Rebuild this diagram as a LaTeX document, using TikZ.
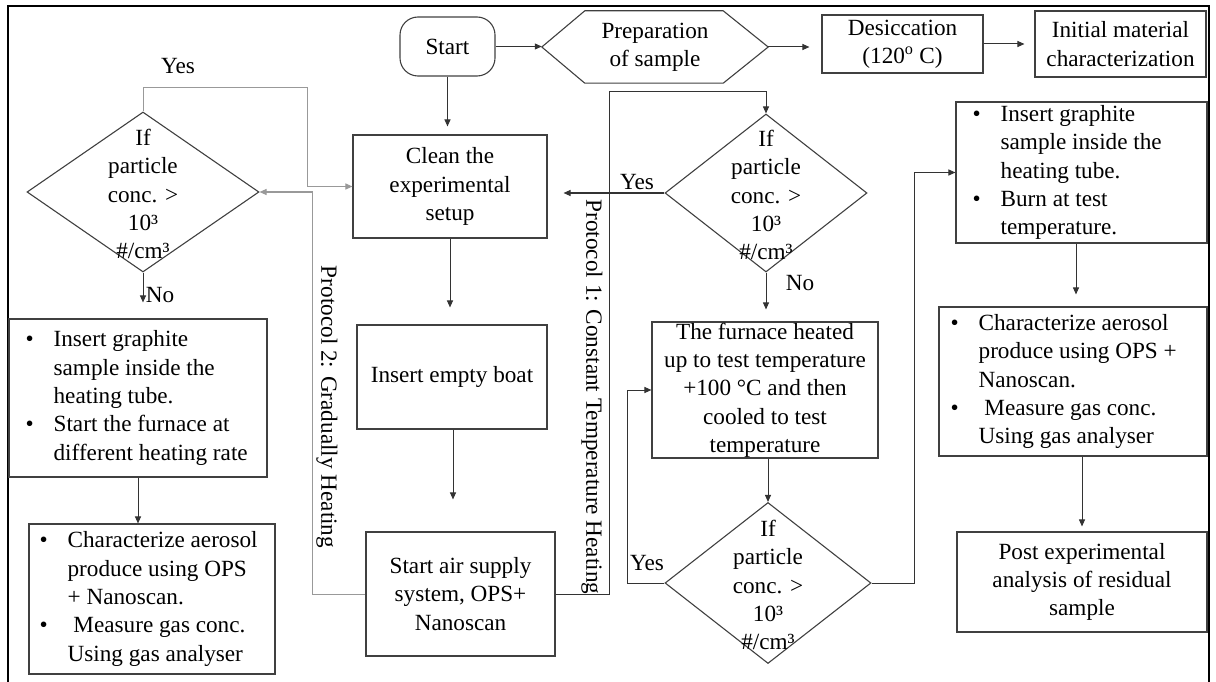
\documentclass[tikz,border=0pt]{standalone}
\usepackage{fontspec}
\setmainfont{Liberation Serif}
\usetikzlibrary{arrows.meta,shapes.geometric}
\newcommand\bitem{\makebox[28pt][l]{\textbullet}}
\newcommand\bind{\hspace*{28pt}}
\begin{document}
\begin{tikzpicture}[x=1pt,y=-1pt, font=\fontsize{23.2}{28.3}\selectfont,
  box/.style={draw=black!75, line width=1.1pt, inner sep=0pt, align=center},
  dia/.style={draw=black!75, line width=1.1pt, diamond, inner sep=0pt},
  conn/.style={draw=black!80, line width=1pt, -{Triangle[length=7pt,width=6pt]}},
  gconn/.style={conn, draw=black!40},
  lbl/.style={inner sep=0pt},
  btext/.style={inner sep=0pt, align=left, anchor=west}]
\useasboundingbox (0,0) rectangle (1216,682);
% frame
\draw[line width=2pt] (8,690) -- (8,6) -- (1209,6) -- (1209,690);

% top row
\node[box, rounded corners=18pt, minimum width=95pt, minimum height=59pt] (start) at (447.5,46.5) {Start};
\node[inner sep=0pt, minimum width=226pt, minimum height=72pt, align=center] (prep) at (655,47) {Preparation\\of sample};
\draw[draw=black!75, line width=1.1pt] (prep.west) -- ([xshift=43pt]prep.north west) -- ([xshift=-45pt]prep.north east) -- (prep.east) -- ([xshift=-45pt]prep.south east) -- ([xshift=43pt]prep.south west) -- cycle;
\node[box, minimum width=161pt, minimum height=58pt] (desic) at (902.5,44) {Desiccation\\(120\textsuperscript{o} C)};
\node[box, minimum width=171pt, minimum height=66pt] (init) at (1120.5,44) {Initial material\\characterization};

% middle column
\node[box, minimum width=194pt, minimum height=103pt] (clean) at (450,186.5) {Clean the\\experimental\\setup};
\node[box, minimum width=190pt, minimum height=104pt] (boat) at (452,377) {Insert empty boat};
\node[box, minimum width=189pt, minimum height=124pt] (air) at (460.5,594) {Start air supply\\system, OPS+\\Nanoscan};

% protocol 1 column
\node[dia, minimum width=202pt, minimum height=158pt] (d1) at (766,193) {};
\node[lbl, align=center] (d1t) at (766,195) {If\\particle\\conc. >\\10³\\\#/cm³};
\node[box, minimum width=226pt, minimum height=136pt] (furn) at (765,390) {The furnace heated\\up to test temperature\\+100 °C and then\\cooled to test\\temperature};
\node[dia, minimum width=206pt, minimum height=161pt] (d2) at (768,583) {};
\node[lbl, align=center] (d2t) at (768,585) {If\\particle\\conc. >\\10³\\\#/cm³};

% right column
\node[box, minimum width=251pt, minimum height=141pt] (graph) at (1081.5,172.5) {};
\node[btext] (grapht) at ([xshift=17pt]graph.west) {\bitem Insert graphite\\\bind sample inside the\\\bind heating tube.\\\bitem Burn at test\\\bind temperature.};
\node[box, minimum width=268pt, minimum height=149pt] (charR) at (1073,381.5) {};
\node[btext] (charRt) at ([xshift=12pt]charR.west) {\bitem Characterize aerosol\\\bind produce using OPS +\\\bind Nanoscan.\\\bitem\ Measure gas conc.\\\bind Using gas analyser};
\node[box, minimum width=250pt, minimum height=100pt] (post) at (1082,582) {Post experimental\\analysis of residual\\sample};

% left column
\node[dia, minimum width=232pt, minimum height=160pt] (d3) at (143,192) {};
\node[lbl, align=center] (d3t) at (143,194) {If\\particle\\conc. >\\10³\\\#/cm³};
\node[box, minimum width=258pt, minimum height=158pt] (b1) at (138,398) {};
\node[btext] (b1t) at ([xshift=17pt]b1.west) {\bitem Insert graphite\\\bind sample inside the\\\bind heating tube.\\\bitem Start the furnace at\\\bind different heating rate};
\node[box, minimum width=246pt, minimum height=150pt] (b2) at (152,599) {};
\node[btext] (b2t) at ([xshift=11pt]b2.west) {\bitem Characterize aerosol\\\bind produce using OPS\\\bind + Nanoscan.\\\bitem\ Measure gas conc.\\\bind Using gas analyser};

% coordinates
\coordinate (p1) at (609,92);
\coordinate (ly) at (307,88);
\coordinate (p2) at (312,594);

% connectors top
\draw[conn] (start.east) -- (start.east -| prep.west);
\draw[conn, shorten >=12pt] (prep.east) -- (prep.east -| desic.west);
\draw[conn, shorten >=10pt] (desic.east) -- (init.west);
\draw[conn, shorten >=8pt] (start.south) -- (start.south |- clean.north);
\draw[conn, shorten >=17pt] (clean.south) -- (clean.south |- boat.north);
\draw[conn, shorten >=32pt] ([xshift=1pt]boat.south) -- ([xshift=1pt]boat.south |- air.north);

% protocol 1
\draw[conn] (air.east) -| (p1) -| (d1.north);
\node[lbl, rotate=-90] (p1lab) at (592,397) {Protocol 1: Constant Temperature Heating};
\draw[conn, shorten >=16pt] (d1.west) -- (clean.east |- d1.west);
\node[lbl] (yes1) at (637,182) {Yes};
\draw[conn, shorten >=12pt] (d1.south) -- (d1.south |- furn.north);
\node[lbl] (no1) at (800,283) {No};
\draw[conn] (d2.north |- furn.south) -- (d2.north);
\draw[conn] (d2.west) -- ++(-37,0) |- (furn.west);
\node[lbl] (yes2) at (647,563) {Yes};
\draw[conn] (d2.east) -- ++(43,0) |- (graph.west);
\draw[conn, shorten >=12pt] ([xshift=-5.5pt]graph.south) -- ([xshift=-5.5pt]graph.south |- charR.north);
\draw[conn, shorten >=5pt] (post.north |- charR.south) -- (post.north);

% protocol 2 / left
\draw[gconn] (d3.north) |- (ly) |- (clean.west);
\node[lbl] (yes3) at (178,66) {Yes};
\draw[gconn] (air.west) -- (p2) |- (d3.east);
\node[lbl, rotate=-90] (p2lab) at (327,407) {Protocol 2: Gradually Heating};
\draw[conn, shorten >=16pt] (d3.south) -- (d3.south |- b1.north);
\node[lbl] (no3) at (160,295) {No};
\draw[conn] (b1.south) -- (b1.south |- b2.north);
\end{tikzpicture}
\end{document}
